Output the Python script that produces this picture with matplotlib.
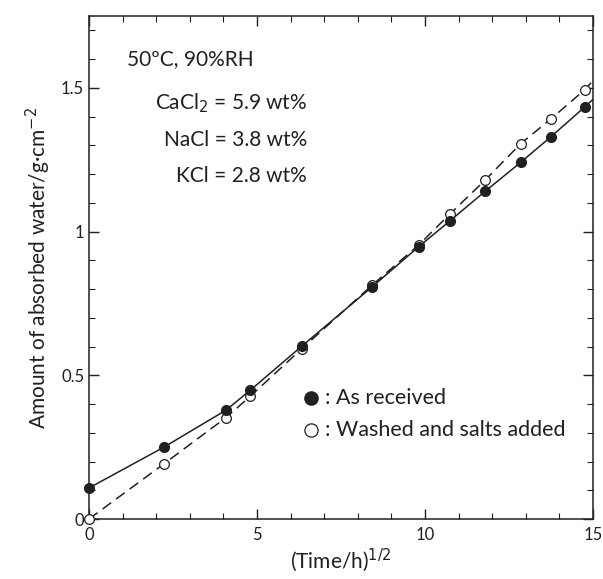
import numpy as np
import matplotlib.pyplot as plt
from matplotlib.ticker import MultipleLocator, FixedLocator, FixedFormatter

plt.rcParams['font.family'] = ['Lato', 'DejaVu Sans']

# Данные
# ==========================================================
t_sqrt = [0, 2.23, 4.08, 4.80, 6.34, 8.43, 9.82, 10.74, 11.79, 12.85, 13.74, 14.75]
as_received = [0.108, 0.250, 0.379, 0.448, 0.602, 0.808, 0.948, 1.037, 1.140, 1.241, 1.329, 1.433]
washed = [0.0, 0.192, 0.353, 0.427, 0.593, 0.814, 0.954, 1.061, 1.179, 1.306, 1.391, 1.493]

# концы кривых на правой границе
x_end = 15
as_received_end = 1.46
washed_end = 1.525

conditions = '50ºC, 90%RH'
salts = ['CaCl$_2$ = 5.9 wt%', 'NaCl = 3.8 wt%', 'KCl = 2.8 wt%']
legend_labels = [': As received', ': Washed and salts added']
# ==========================================================

ink = '#231f20'

fig = plt.figure(figsize=(6.03, 5.79), dpi=100)
ax = fig.add_axes([0.1476, 0.1036, 0.8358, 0.8688])

# кривые
ax.plot(t_sqrt + [x_end], as_received + [as_received_end], '-', color=ink, lw=1.1, zorder=2)
ax.plot(t_sqrt + [x_end], washed + [washed_end], '--', color=ink, lw=1.1, dashes=(7, 4), zorder=2)

# точки
ax.plot(t_sqrt, washed, 'o', ms=7, mfc='white', mec=ink, mew=0.9, zorder=3, clip_on=False)
ax.plot(t_sqrt, as_received, 'o', ms=7, mfc=ink, mec=ink, zorder=4, clip_on=False)

ax.set_xlim(0, 15)
ax.set_ylim(0, 1.75)
ax.xaxis.set_major_locator(MultipleLocator(5))
ax.xaxis.set_minor_locator(MultipleLocator(1))
ax.yaxis.set_major_locator(FixedLocator([0, 0.5, 1, 1.5]))
ax.yaxis.set_major_formatter(FixedFormatter(['0', '0.5', '1', '1.5']))
ax.yaxis.set_minor_locator(MultipleLocator(0.1))
ax.tick_params(which='both', direction='in', top=True, right=True, color=ink,
               labelsize=12, labelcolor=ink)
ax.tick_params(which='major', length=7, width=1)
ax.tick_params(which='minor', length=4, width=0.8)
ax.tick_params(axis='x', pad=6)
for s in ax.spines.values():
    s.set_color(ink)
    s.set_linewidth(1.1)

ax.set_xlabel('(Time/h)$^{1/2}$', fontsize=15, color=ink, labelpad=2)
ax.set_ylabel('Amount of absorbed water/g·cm$^{-2}$', fontsize=15, color=ink, labelpad=6)

# подписи условий
ax.text(0.076, 0.915, conditions, transform=ax.transAxes, fontsize=15, color=ink,
        va='center', ha='left')
for k, txt in enumerate(salts):
    ax.text(0.433, 0.826 - k * 0.072, txt, transform=ax.transAxes,
            fontsize=15, color=ink, va='center', ha='right')

# легенда
ax.plot([0.44], [0.24], 'o', transform=ax.transAxes, ms=9.5, mfc=ink, mec=ink)
ax.plot([0.44], [0.176], 'o', transform=ax.transAxes, ms=9.5, mfc='white', mec=ink, mew=0.9)
ax.text(0.468, 0.24, legend_labels[0], transform=ax.transAxes, fontsize=15.5, color=ink, va='center')
ax.text(0.468, 0.176, legend_labels[1], transform=ax.transAxes, fontsize=15.5, color=ink, va='center')

plt.savefig('out.png', dpi=100)
